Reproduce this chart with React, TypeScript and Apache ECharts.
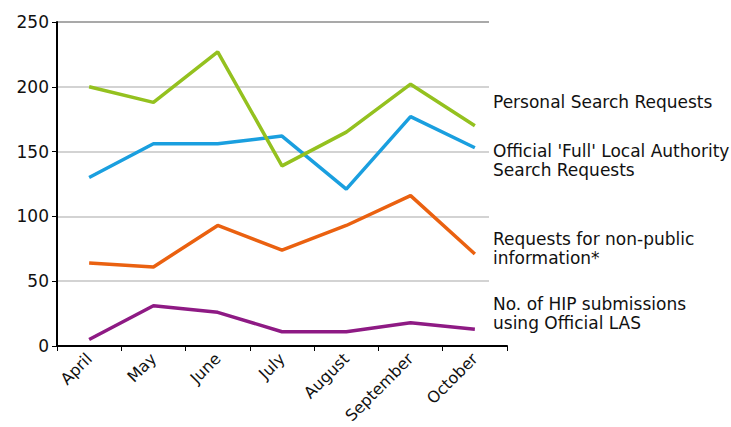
import React, { useEffect, useRef } from "react";
import * as echarts from "echarts";

const months = ["April", "May", "June", "July", "August", "September", "October"];
const personalSearch = [200, 188, 227, 139, 165, 202, 170];
const officialFull = [130, 156, 156, 162, 121, 177, 153];
const nonPublic = [64, 61, 93, 74, 93, 116, 71];
const hipSubmissions = [5, 31, 26, 11, 11, 18, 13];
const seriesNames = [
  "Personal Search Requests",
  "Official 'Full' Local Authority\nSearch Requests",
  "Requests for non-public\ninformation*",
  "No. of HIP submissions\nusing Official LAS",
];
const seriesColors = ["#94c11f", "#1a9fdf", "#ea6110", "#8e1a84"];
const labelY = [102, 160, 248, 313];

const FONT = "DejaVu Sans";

export default function App() {
  const ref = useRef<HTMLDivElement>(null);
  useEffect(() => {
    if (!ref.current) return;
    const chart = echarts.init(ref.current, null, { renderer: "svg" });
    const data = [personalSearch, officialFull, nonPublic, hipSubmissions];
    const option: any = {
      animation: false,
      backgroundColor: "#ffffff",
      grid: [
        { left: 57, right: 224, top: 22, bottom: 81 },
        { left: 57, right: 242, top: 22, bottom: 81 },
      ],
      xAxis: [
        {
          type: "category",
          gridIndex: 0,
          data: months,
          boundaryGap: true,
          axisLine: { lineStyle: { color: "#000", width: 2 } },
          axisTick: { show: true, length: 5, lineStyle: { color: "#000", width: 1 } },
          axisLabel: {
            rotate: 45,
            fontFamily: FONT,
            fontSize: 16,
            color: "#111",
            margin: 10,
            interval: 0,
          },
          splitLine: { show: false },
        },
        {
          type: "category",
          gridIndex: 1,
          data: months,
          show: false,
        },
      ],
      yAxis: [
        {
          type: "value",
          gridIndex: 0,
          min: 0,
          max: 250,
          interval: 50,
          axisLine: { show: true, lineStyle: { color: "#000", width: 2 } },
          axisTick: { show: true, length: 5, lineStyle: { color: "#000" } },
          axisLabel: { fontFamily: FONT, fontSize: 17, color: "#111", margin: 8 },
          splitLine: { show: false },
        },
        {
          type: "value",
          gridIndex: 1,
          min: 0,
          max: 250,
          interval: 50,
          axisLine: { show: false },
          axisTick: { show: false },
          axisLabel: { show: false },
          splitLine: {
            show: true,
            lineStyle: {
              color: ["#c4c4c4", "#c4c4c4", "#c4c4c4", "#c4c4c4", "#c4c4c4", "#8c8c8c"],
              width: 1.5,
            },
          },
        },
      ],
      series: data.map((d, i) => ({
        type: "line",
        name: seriesNames[i],
        xAxisIndex: 0,
        yAxisIndex: 0,
        data: d,
        symbol: "none",
        lineStyle: { color: seriesColors[i], width: 3.5 },
        itemStyle: { color: seriesColors[i] },
        z: 10 - i,
      })),
      graphic: seriesNames.map((name, i) => ({
        type: "text",
        left: 493,
        top: labelY[i] - (name.includes("\n") ? 19 : 10),
        style: {
          text: name,
          fontFamily: FONT,
          fontSize: 17,
          lineHeight: 19,
          fill: "#111",
        },
      })),
    };
    chart.setOption(option);
    return () => chart.dispose();
  }, []);
  return <div ref={ref} style={{ width: 731, height: 427, position: "absolute", left: 0, top: 0 }} />;
}
